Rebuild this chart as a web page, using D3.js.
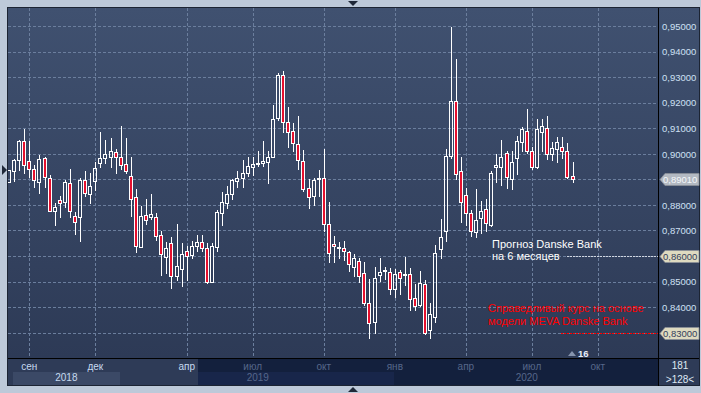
<!DOCTYPE html>
<html>
<head>
<meta charset="utf-8">
<script src="https://cdn.jsdelivr.net/npm/d3@7"></script>
<style>
  body { margin: 0; background: #bdc9d9; }
  svg { display: block; font-family: "Liberation Sans", Arial, sans-serif; }
</style>
</head>
<body>
<div id="chart"></div>
<script>
// weekly candles: [open, high, low, close]
const ohlc = [
  [0.8891,0.8937,0.8889,0.8936],[0.8931,0.8980,0.8895,0.8975],[0.8974,0.9054,0.8937,0.9050],[0.9049,0.9097,0.8925,0.8955],
  [0.8971,0.9050,0.8911,0.8940],[0.8940,0.8957,0.8870,0.8896],[0.8891,0.8996,0.8847,0.8979],[0.8983,0.8989,0.8872,0.8908],
  [0.8905,0.8917,0.8777,0.8778],[0.8778,0.8807,0.8722,0.8792],[0.8820,0.8835,0.8752,0.8807],[0.8811,0.8898,0.8793,0.8891],
  [0.8887,0.8941,0.8754,0.8778],[0.8757,0.8774,0.8687,0.8735],[0.8754,0.8905,0.8657,0.8898],[0.8898,0.8934,0.8835,0.8848],
  [0.8842,0.8926,0.8809,0.8874],[0.8895,0.8969,0.8859,0.8944],[0.8963,0.9087,0.8950,0.8983],[0.8983,0.9054,0.8963,0.9000],
  [0.8989,0.9061,0.8950,0.9011],[0.9006,0.9018,0.8926,0.8987],[0.8987,0.9109,0.8940,0.8957],[0.8959,0.9061,0.8925,0.8933],
  [0.8914,0.8987,0.8757,0.8824],[0.8830,0.8862,0.8614,0.8641],[0.8637,0.8796,0.8636,0.8757],[0.8761,0.8822,0.8726,0.8739],
  [0.8752,0.8842,0.8744,0.8765],[0.8752,0.8768,0.8663,0.8680],[0.8683,0.8698,0.8526,0.8607],[0.8598,0.8653,0.8535,0.8631],
  [0.8650,0.8676,0.8474,0.8520],[0.8520,0.8726,0.8507,0.8562],[0.8549,0.8650,0.8483,0.8607],[0.8618,0.8641,0.8507,0.8602],
  [0.8605,0.8657,0.8592,0.8641],[0.8641,0.8683,0.8618,0.8654],[0.8654,0.8683,0.8621,0.8631],[0.8631,0.8650,0.8496,0.8500],
  [0.8500,0.8651,0.8498,0.8640],[0.8637,0.8781,0.8621,0.8772],[0.8768,0.8850,0.8722,0.8811],[0.8807,0.8874,0.8787,0.8842],
  [0.8842,0.8901,0.8822,0.8898],[0.8895,0.8933,0.8869,0.8905],[0.8905,0.8976,0.8872,0.8924],[0.8924,0.8989,0.8914,0.8954],
  [0.8950,0.8987,0.8917,0.8959],[0.8959,0.9011,0.8953,0.8963],[0.8963,0.9050,0.8953,0.8973],[0.8969,0.9009,0.8887,0.8987],
  [0.8989,0.9191,0.8987,0.9135],[0.9139,0.9315,0.9132,0.9308],[0.9308,0.9324,0.9087,0.9126],[0.9126,0.9182,0.9026,0.9087],
  [0.9089,0.9120,0.9012,0.9041],[0.9037,0.9148,0.8941,0.8976],[0.8972,0.9015,0.8856,0.8862],[0.8865,0.8901,0.8787,0.8830],
  [0.8833,0.8907,0.8800,0.8898],[0.8903,0.8937,0.8833,0.8907],[0.8905,0.9018,0.8696,0.8725],[0.8725,0.8811,0.8575,0.8611],
  [0.8646,0.8679,0.8575,0.8640],[0.8631,0.8653,0.8592,0.8634],[0.8631,0.8659,0.8585,0.8621],[0.8615,0.8621,0.8543,0.8568],
  [0.8557,0.8607,0.8520,0.8592],[0.8580,0.8592,0.8500,0.8521],[0.8532,0.8578,0.8408,0.8418],[0.8418,0.8510,0.8279,0.8338],
  [0.8340,0.8559,0.8300,0.8514],[0.8524,0.8592,0.8504,0.8539],[0.8542,0.8559,0.8510,0.8546],[0.8539,0.8553,0.8452,0.8471],
  [0.8471,0.8549,0.8439,0.8529],[0.8539,0.8546,0.8452,0.8514],[0.8524,0.8596,0.8487,0.8529],[0.8529,0.8553,0.8387,0.8431],
  [0.8435,0.8490,0.8387,0.8403],[0.8408,0.8542,0.8403,0.8494],[0.8490,0.8507,0.8296,0.8299],[0.8309,0.8416,0.8281,0.8373],
  [0.8363,0.8644,0.8340,0.8611],[0.8627,0.8744,0.8594,0.8676],[0.8696,0.9018,0.8657,0.8992],[0.8992,0.9497,0.8985,0.9207],
  [0.9207,0.9371,0.8902,0.8920],[0.8933,0.8989,0.8735,0.8813],[0.8839,0.8865,0.8722,0.8768],[0.8768,0.8781,0.8680,0.8698],
  [0.8693,0.8862,0.8676,0.8741],[0.8748,0.8817,0.8692,0.8776],[0.8783,0.8822,0.8699,0.8728],[0.8722,0.8934,0.8718,0.8924],
  [0.8948,0.9000,0.8891,0.8957],[0.8948,0.9054,0.8878,0.8987],[0.9002,0.9009,0.8865,0.8911],[0.8901,0.9009,0.8862,0.8969],
  [0.8983,0.9070,0.8921,0.9050],[0.9045,0.9104,0.9009,0.9096],[0.9090,0.9174,0.9002,0.9011],[0.9011,0.9028,0.8940,0.8948],
  [0.8948,0.9135,0.8944,0.9096],[0.9087,0.9135,0.9012,0.9110],[0.9100,0.9148,0.8979,0.9000],[0.8998,0.9048,0.8976,0.9024],
  [0.9019,0.9065,0.8966,0.9045],[0.9028,0.9067,0.8983,0.9011],[0.9011,0.9044,0.8905,0.8911],[0.8915,0.8966,0.8891,0.8901]
];

// month ticks (candle index where the month starts)
const monthIdx = [4, 17, 35, 48, 62, 76, 90, 103, 116];
const monthLabels = ["сен", "дек", "апр", "июл", "окт", "янв", "апр", "июл", "окт"];
const yearIdx = [11.3, 49, 102];
const yearLabels = ["2018", "2019", "2020"];
const yTicks = d3.range(0.83, 0.9501, 0.01);
const lastPrice = 0.8901;
const forecast = 0.86;
const fairValue = 0.83;

const width = 701, height = 393;
const plotL = 8, plotR = 658, plotT = 8, plotB = 358;
const dimFrom = 198; // dark part of the time strip

const svg = d3.select("#chart").append("svg")
  .attr("width", width).attr("height", height);

const defs = svg.append("defs");
const grad = defs.append("linearGradient").attr("id", "bg")
  .attr("x1", 0).attr("y1", 0).attr("x2", 0).attr("y2", 1);
grad.append("stop").attr("offset", "0%").attr("stop-color", "#405170");
grad.append("stop").attr("offset", "100%").attr("stop-color", "#2d3a56");
defs.append("clipPath").attr("id", "plotclip").append("rect")
  .attr("x", plotL).attr("y", plotT).attr("width", plotR - plotL).attr("height", plotB - plotT);

let x = d3.scaleLinear().domain([0, ohlc.length - 1]).range([9, 572.5]);
let y = d3.scaleLinear().domain([0.83, 0.95]).range([332.7, 26]);
const px = v => Math.round(x(v));
const py = v => Math.round(y(v));

// outer frame + panels
svg.append("rect").attr("width", width).attr("height", height).attr("fill", "#bdc9d9");
svg.append("rect").attr("x", 7).attr("y", 7).attr("width", 693).attr("height", 379).attr("fill", "#1c2433");
svg.append("rect").attr("x", plotL).attr("y", plotT).attr("width", 691).attr("height", plotB - plotT)
  .attr("fill", "url(#bg)");

// time strip
svg.append("rect").attr("x", plotL).attr("y", plotB + 1).attr("width", plotR - plotL).attr("height", 26)
  .attr("fill", "#2e3b57");
svg.append("rect").attr("x", 13).attr("y", 372).attr("width", 107).attr("height", 13).attr("fill", "#3b4966");
svg.append("rect").attr("x", dimFrom).attr("y", plotB + 1).attr("width", plotR - dimFrom).attr("height", 26)
  .attr("fill", "#13203d");
svg.append("rect").attr("x", dimFrom).attr("y", 372).attr("width", 394 - dimFrom).attr("height", 13)
  .attr("fill", "#18264a");
svg.append("rect").attr("x", plotR + 1).attr("y", plotB + 1).attr("width", 40).attr("height", 26)
  .attr("fill", "#2e3b57");

// grid
const grid = svg.append("g").attr("stroke", "#6b7e9d").attr("stroke-dasharray", "3,2").attr("stroke-width", 1);
grid.selectAll(".h").data(yTicks).join("line")
  .attr("x1", plotL).attr("x2", plotR)
  .attr("y1", d => py(d) + 0.5).attr("y2", d => py(d) + 0.5);
grid.selectAll(".v").data(monthIdx).join("line")
  .attr("y1", plotT).attr("y2", plotB)
  .attr("x1", d => px(d) + 0.5).attr("x2", d => px(d) + 0.5);

// candles
const cg = svg.append("g").attr("clip-path", "url(#plotclip)");
ohlc.forEach(function(d, i) {
  let [o, h, l, c] = d;
  let cx = px(i);
  let top = py(Math.max(o, c)), bot = py(Math.min(o, c));
  if (bot - top < 1) bot = top + 1;
  let up = c >= o;
  cg.append("line").attr("x1", cx + 0.5).attr("x2", cx + 0.5)
    .attr("y1", py(h)).attr("y2", top).attr("stroke", "#fff");
  cg.append("line").attr("x1", cx + 0.5).attr("x2", cx + 0.5)
    .attr("y1", bot).attr("y2", py(l) + 1).attr("stroke", "#fff");
  cg.append("rect")
    .attr("x", cx - 1.5).attr("y", top + 0.5)
    .attr("width", 3).attr("height", bot - top)
    .attr("fill", up ? "none" : "#e5102e")
    .attr("stroke", "#fff").attr("stroke-width", 1);
});

// panel separators
svg.append("line").attr("x1", plotR + 0.5).attr("x2", plotR + 0.5).attr("y1", plotT).attr("y2", 386)
  .attr("stroke", "#000");
svg.append("line").attr("x1", plotL).attr("x2", 699).attr("y1", plotB + 0.5).attr("y2", plotB + 0.5)
  .attr("stroke", "#000");

// y axis labels
const fmt = v => d3.format(".5f")(v).replace(".", ",");
svg.append("g").selectAll("text").data(yTicks).join("text")
  .attr("x", 662).attr("y", d => y(d) + 3.8)
  .attr("fill", "#cfe0f4").attr("font-size", "9.5px")
  .text(fmt);

// month & year labels
svg.append("g").selectAll("text").data(monthIdx).join("text")
  .attr("x", d => x(d)).attr("y", 370).attr("text-anchor", "middle")
  .attr("font-size", "10px")
  .attr("fill", d => x(d) < dimFrom ? "#c6daf0" : "#56678a")
  .text((d, i) => monthLabels[i]);
svg.append("g").selectAll("text").data(yearIdx).join("text")
  .attr("x", d => x(d)).attr("y", 381).attr("text-anchor", "middle")
  .attr("font-size", "10px")
  .attr("fill", d => x(d) < dimFrom ? "#c6daf0" : "#56678a")
  .text((d, i) => yearLabels[i]);

svg.append("text").attr("x", 680).attr("y", 369).attr("text-anchor", "middle")
  .attr("font-size", "10px").attr("fill", "#dfe8f3").text("181");
svg.append("text").attr("x", 680).attr("y", 382.5).attr("text-anchor", "middle")
  .attr("font-size", "10px").attr("fill", "#dfe8f3").text(">128<");

// marker "16"
svg.append("path").attr("d", "M568,356 L572,351 L576,356 Z").attr("fill", "#8694ad");
svg.append("text").attr("x", 578).attr("y", 357).attr("font-size", "9.5px").attr("font-weight", "bold")
  .attr("fill", "#e8eef6").text("16");

// annotation lines
svg.append("line").attr("x1", 567).attr("x2", plotR).attr("y1", py(forecast) + 0.5).attr("y2", py(forecast) + 0.5)
  .attr("stroke", "#d0d6e0").attr("stroke-dasharray", "2,1");
svg.append("line").attr("x1", 561).attr("x2", plotR).attr("y1", py(fairValue) + 0.5).attr("y2", py(fairValue) + 0.5)
  .attr("stroke", "#ff0000").attr("stroke-dasharray", "2,1");

svg.append("text").attr("x", 492).attr("y", 247.5).attr("font-size", "11px").attr("fill", "#fff")
  .text("Прогноз Danske Bank");
svg.append("text").attr("x", 492).attr("y", 260).attr("font-size", "11px").attr("fill", "#fff")
  .text("на 6 месяцев");
svg.append("text").attr("x", 488).attr("y", 312).attr("font-size", "11px").attr("fill", "#ff0000")
  .text("Справедливый курс на основе");
svg.append("text").attr("x", 488).attr("y", 324.5).attr("font-size", "11px").attr("fill", "#ff0000")
  .text("модели MEVA Danske Bank");

// price tags
const tags = [
  { v: lastPrice, fill: "#b3b9c2", text: "#f4f7fa" },
  { v: forecast, fill: "#dedac0", text: "#34415c" },
  { v: fairValue, fill: "#dedac0", text: "#34415c" }
];
tags.forEach(function(t) {
  let yc = py(t.v) + 0.5;
  svg.append("path")
    .attr("d", `M660,${yc} L665,${yc - 6} L699,${yc - 6} L699,${yc + 6} L665,${yc + 6} Z`)
    .attr("fill", t.fill).attr("stroke", "#8a8f98").attr("stroke-width", 0.8);
  svg.append("text").attr("x", 663).attr("y", yc + 3.6).attr("font-size", "9.5px")
    .attr("fill", t.text).text(fmt(t.v));
});

// navigation triangles
svg.append("path").attr("d", "M348,1 L358,1 L353,6 Z").attr("fill", "#1f2838");
svg.append("path").attr("d", "M348,392 L358,392 L353,387 Z").attr("fill", "#1f2838");
svg.append("path").attr("d", "M2,165 L7,170 L2,175 Z").attr("fill", "#1f2838");
</script>
</body>
</html>
